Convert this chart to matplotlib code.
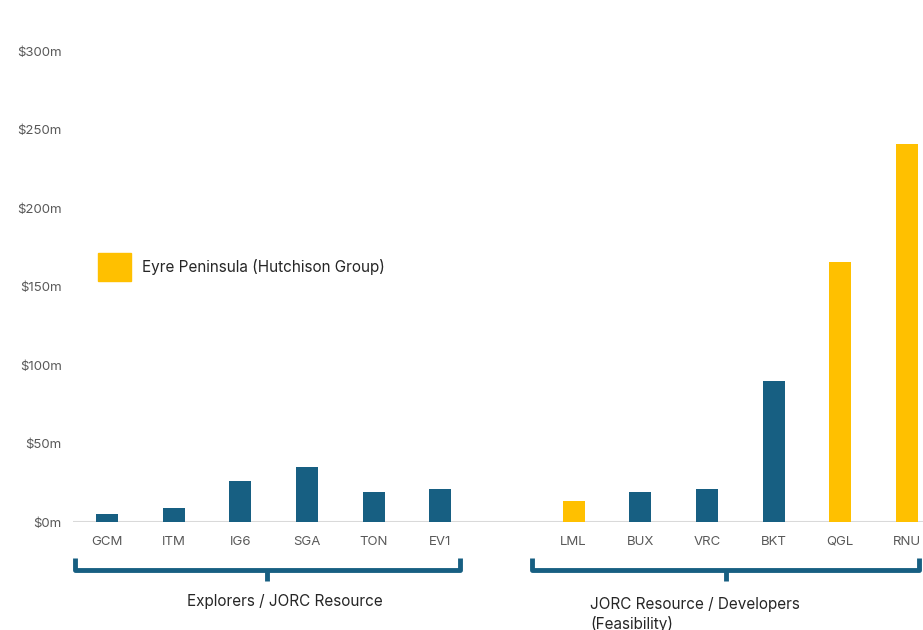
import numpy as np
import matplotlib.pyplot as plt
import matplotlib.transforms as mtransforms
from matplotlib.patches import Patch

plt.rcParams['font.family'] = ['Inter', 'DejaVu Sans']

# Data ($m)
explorers = ['GCM', 'ITM', 'IG6', 'SGA', 'TON', 'EV1']
explorers_val = [5, 9, 26, 35, 19, 21]
developers = ['LML', 'BUX', 'VRC', 'BKT', 'QGL', 'RNU']
developers_val = [13.5, 19, 21, 90, 165.5, 241]
eyre = ['LML', 'QGL', 'RNU']   # Eyre Peninsula (Hutchison Group)

blue = '#175f82'
yellow = '#ffc000'
grey = '#595959'

labels = explorers + developers
values = explorers_val + developers_val
pos = list(range(len(explorers))) + [len(explorers) + 1 + i for i in range(len(developers))]
colors = [yellow if l in eyre else blue for l in labels]

fig = plt.figure(figsize=(9.23, 6.3), dpi=100)
ax = fig.add_axes([0.079, 0.1714, 0.921, 0.7476])

ax.bar(pos, values, width=0.33, color=colors, zorder=3)
ax.axhline(0, color='#d9d9d9', lw=1.5, zorder=2)

ax.set_xlim(-0.51, 12.24)
ax.set_ylim(0, 300)
ax.set_yticks(np.arange(0, 301, 50))
ax.set_yticklabels(['$%dm' % v for v in range(0, 301, 50)], fontsize=9.5, color=grey)
ax.set_xticks(pos)
ax.set_xticklabels(labels, fontsize=9.5, color=grey)
ax.tick_params(axis='both', length=0)
ax.tick_params(axis='y', pad=8)
ax.tick_params(axis='x', pad=10)
for s in ax.spines.values():
    s.set_visible(False)

# brackets under each group
trans = mtransforms.blended_transform_factory(ax.transData, ax.transAxes)
y_end, y_bar, y_tip = -0.076, -0.102, -0.125
groups = [(pos[:len(explorers)], -0.48, 0.29), (pos[len(explorers):], -0.62, 0.18)]
for grp, lo, hi in groups:
    x0, x1 = grp[0] + lo, grp[-1] + hi
    xm = (x0 + x1) / 2
    ax.plot([x0, x0, x1, x1], [y_end, y_bar, y_bar, y_end], color=blue, lw=3.5,
            transform=trans, clip_on=False, solid_joinstyle='round', solid_capstyle='butt')
    ax.plot([xm, xm], [y_bar, y_tip], color=blue, lw=3.5, transform=trans,
            clip_on=False, solid_capstyle='butt')

ax.text(2.67, -0.168, 'Explorers / JORC Resource', transform=trans, ha='center',
        va='center', fontsize=11, color='#262626')
ax.text(7.25, -0.159, 'JORC Resource / Developers\n(Feasibility)', transform=trans,
        ha='left', va='top', fontsize=11, color='#262626', linespacing=1.3)

leg = ax.legend(handles=[Patch(color=yellow, label='Eyre Peninsula (Hutchison Group)')],
                loc='upper left', bbox_to_anchor=(0.013, 0.6), frameon=False,
                fontsize=11, handlelength=2.16, handleheight=2.4, handletextpad=0.75,
                labelcolor='#262626')

fig.savefig('out.png', dpi=100)
